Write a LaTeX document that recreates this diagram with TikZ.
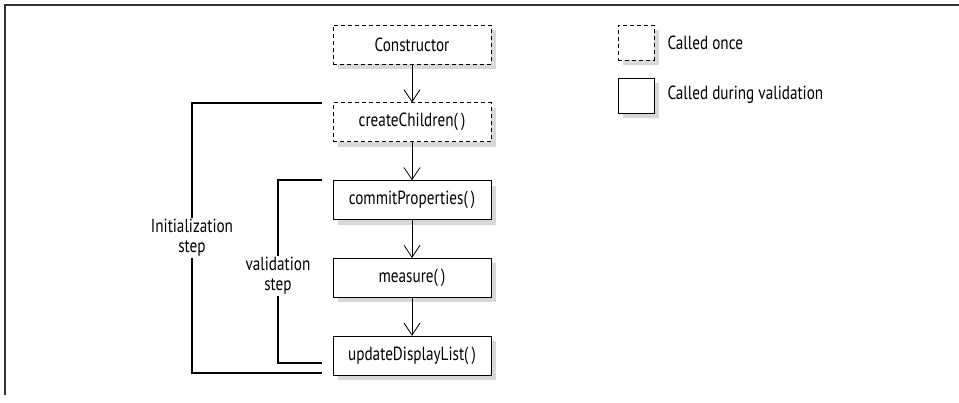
\documentclass[tikz,border=0pt]{standalone}
\usepackage{fontspec}
\setmainfont{PT Sans}[FakeStretch=0.8]
\usetikzlibrary{arrows.meta,positioning,shadows}

\begin{document}
\begin{tikzpicture}[x=1pt,y=-1pt,>={Straight Barb[length=12pt,width=16pt]},
	font=\fontsize{19}{20}\selectfont,
	methodbox/.style={draw,line width=0.8pt,fill=white,minimum width=158pt,minimum height=39pt,inner sep=0pt,
		drop shadow={shadow xshift=5pt,shadow yshift=-5pt,fill=black!30}},
	oncebox/.style={methodbox,dash pattern=on 4pt off 3pt},
	callarrow/.style={->,line width=0.8pt},
	stepline/.style={line width=2.4pt},
	steplabel/.style={fill=white,align=center,inner sep=1pt}]
	
	\useasboundingbox (0,0) rectangle (959,402);
	
	%----------------------------------------
	% Frame
	%----------------------------------------
	\draw[line width=1.5pt,black!80] (5,395) -- (5,5) -- (959,5);
	
	%----------------------------------------
	% Life cycle methods
	%----------------------------------------
	\node[oncebox] (ctor) at (412,44.5) {Constructor};
	\node[oncebox,below=38pt of ctor] (create) {createChildren(\,)};
	\node[methodbox,below=38pt of create] (commit) {commitProperties(\,)};
	\node[methodbox,below=38pt of commit] (measure) {measure(\,)};
	\node[methodbox,below=38pt of measure] (update) {updateDisplayList(\,)};
	
	%----------------------------------------
	% Calls
	%----------------------------------------
	\draw[callarrow] (ctor) -- (create);
	\draw[callarrow] (create) -- (commit);
	\draw[callarrow] (commit) -- (measure);
	\draw[callarrow] (measure) -- (update);
	
	%----------------------------------------
	% Initialization step
	%----------------------------------------
	\coordinate (I1) at (322,103);
	\coordinate (I2) at (322,373);
	\draw[stepline] (I1) -- (192,103) -- (192,373) -- (I2);
	\node[steplabel] (init) at (192,238) {Initialization\\step};
	
	%----------------------------------------
	% Validation step
	%----------------------------------------
	\coordinate (V1) at (322,180);
	\coordinate (V2) at (322,363);
	\draw[stepline] (V1) -- (278,180) -- (278,363) -- (V2);
	\node[steplabel] (valid) at (278,276) {validation\\step};
	
	%----------------------------------------
	% Legend
	%----------------------------------------
	\node[oncebox,minimum width=36pt,minimum height=35pt] (keyonce) at (636,42.5) {};
	\node[methodbox,minimum width=36pt,minimum height=35pt] (keyvalid) at (636,95.5) {};
	\node[anchor=west] (txtonce) at (664,43) {Called once};
	\node[anchor=west] (txtvalid) at (664,95) {Called during validation};
	
\end{tikzpicture}
\end{document}
